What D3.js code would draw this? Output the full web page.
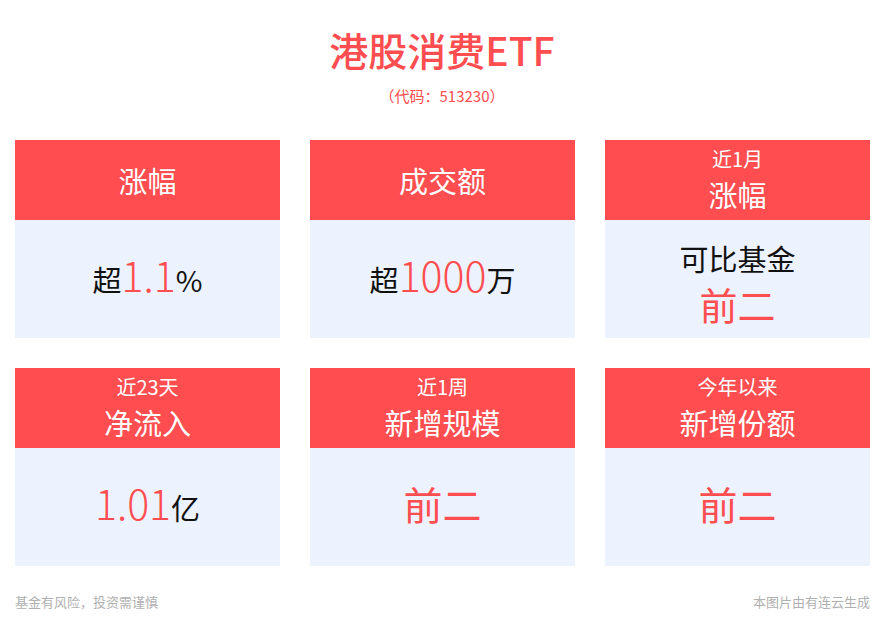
<!DOCTYPE html>
<html lang="zh">
<head>
  <meta charset="UTF-8" />
  <title>港股消费ETF</title>
  <script src="https://d3js.org/d3.v7.min.js"></script>
  <style>
    body { margin: 0; background: #fff; }
    svg { display: block; font-family: "Noto Sans CJK SC", "Noto Sans", sans-serif; }
  </style>
</head>
<body>
  <svg id="chart" width="884" height="632"></svg>
  <script>
    // 卡片内容
    const headTop = ["", "", "近1月", "近23天", "近1周", "今年以来"];
    const headMain = ["涨幅", "成交额", "涨幅", "净流入", "新增规模", "新增份额"];
    const bodyNote = ["", "", "可比基金", "", "", ""];
    const bodyPre = ["超", "超", "", "", "", ""];
    const bodyValue = ["1.1", "1000", "前二", "1.01", "前二", "前二"];
    const bodySuffix = ["%", "万", "", "亿", "", ""];

    const red = "#ff4d50";
    const svg = d3.select("#chart");

    svg.append("text")
      .attr("x", 442).attr("y", 66)
      .attr("text-anchor", "middle")
      .attr("fill", red)
      .attr("font-size", 39)
      .attr("font-weight", 500)
      .text("港股消费ETF");

    svg.append("text")
      .attr("x", 442).attr("y", 102)
      .attr("text-anchor", "middle")
      .attr("fill", red)
      .attr("font-size", 15)
      .text("（代码：513230）");

    const x = d3.scaleBand().domain([0, 1, 2]).range([15, 870]).paddingInner(30 / 295);
    const y = d3.scaleBand().domain([0, 1]).range([140, 566]).paddingInner(30 / 228);
    const headH = 80;

    const cards = svg.selectAll("g.card")
      .data(headMain.map((d, i) => i))
      .join("g")
      .attr("class", "card")
      .attr("transform", i => `translate(${x(i % 3)},${y(Math.floor(i / 3))})`);

    cards.append("rect")
      .attr("width", x.bandwidth())
      .attr("height", y.bandwidth())
      .attr("fill", "#edf3fe");

    cards.append("rect")
      .attr("width", x.bandwidth())
      .attr("height", headH)
      .attr("fill", red);

    const cx = x.bandwidth() / 2;
    const isNum = s => /^[\d.]+$/.test(s);

    cards.each(function (i) {
      const g = d3.select(this);
      // 表头
      if (headTop[i]) {
        g.append("text")
          .attr("x", cx).attr("y", 27)
          .attr("text-anchor", "middle")
          .attr("fill", "#fff")
          .attr("font-size", 20)
          .text(headTop[i]);
      }
      g.append("text")
        .attr("x", cx).attr("y", headTop[i] ? 67 : 53)
        .attr("text-anchor", "middle")
        .attr("fill", "#fff")
        .attr("font-size", 29)
        .text(headMain[i]);

      // 数值
      if (bodyNote[i]) {
        g.append("text")
          .attr("x", cx).attr("y", 131)
          .attr("text-anchor", "middle")
          .attr("fill", "#111")
          .attr("font-size", 29)
          .text(bodyNote[i]);
        g.append("text")
          .attr("x", cx).attr("y", 180)
          .attr("text-anchor", "middle")
          .attr("fill", red)
          .attr("font-size", 38)
          .text(bodyValue[i]);
      } else {
        const t = g.append("text")
          .attr("x", cx).attr("y", 152)
          .attr("text-anchor", "middle");
        if (bodyPre[i]) t.append("tspan").attr("fill", "#111").attr("font-size", 29).text(bodyPre[i]);
        t.append("tspan")
          .attr("fill", red)
          .attr("font-size", isNum(bodyValue[i]) ? 41 : 39)
          .attr("font-weight", isNum(bodyValue[i]) ? 300 : 400)
          .text(bodyValue[i]);
        if (bodySuffix[i]) t.append("tspan").attr("fill", "#111").attr("font-size", 29).text(bodySuffix[i]);
      }
    });

    svg.append("text")
      .attr("x", 15).attr("y", 607)
      .attr("fill", "#b0b0b0")
      .attr("font-size", 13)
      .text("基金有风险，投资需谨慎");

    svg.append("text")
      .attr("x", 870).attr("y", 607)
      .attr("text-anchor", "end")
      .attr("fill", "#b0b0b0")
      .attr("font-size", 13)
      .text("本图片由有连云生成");
  </script>
</body>
</html>
